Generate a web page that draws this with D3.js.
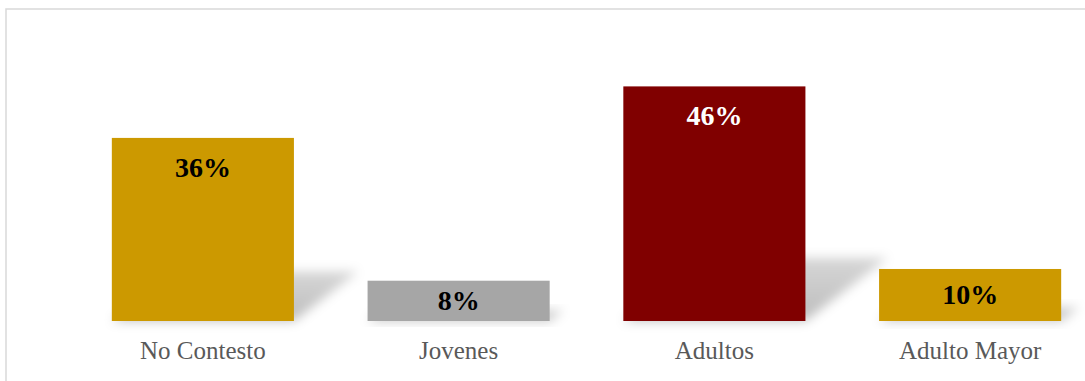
<!DOCTYPE html>
<html>
<head>
<meta charset="utf-8">
<script src="https://cdn.jsdelivr.net/npm/d3@7"></script>
<style>
  html, body { margin: 0; padding: 0; background: #fff; }
  svg { display: block; }
</style>
</head>
<body>
<svg id="chart" width="1085" height="381"></svg>
<script>
const categories = ["No Contesto", "Jovenes", "Adultos", "Adulto Mayor"];
const values = [0.359, 0.079, 0.460, 0.102];
const valueLabels = ["36%", "8%", "46%", "10%"];
const barColors = ["#CC9900", "#A6A6A6", "#800000", "#CC9900"];
const labelColors = ["#000000", "#000000", "#FFFFFF", "#000000"];

const svg = d3.select("#chart");

// chart frame (extends beyond right/bottom edges)
svg.append("rect")
  .attr("x", 6).attr("y", 9)
  .attr("width", 1200).attr("height", 500)
  .attr("fill", "#fff")
  .attr("stroke", "#d9d9d9").attr("stroke-width", 1.5);

const x = d3.scaleBand()
  .domain(categories)
  .range([75, 1098])
  .paddingInner(0.288)
  .paddingOuter(0.144);

const y = d3.scaleLinear()
  .domain([0, 0.5])
  .range([321, 66]);

const defs = svg.append("defs");
defs.append("filter")
  .attr("id", "blur")
  .attr("x", "-50%").attr("y", "-50%")
  .attr("width", "200%").attr("height", "200%")
  .append("feGaussianBlur")
  .attr("stdDeviation", 5.5);

const grad = defs.append("linearGradient")
  .attr("id", "shadowGrad")
  .attr("x1", 0).attr("y1", 1).attr("x2", 0).attr("y2", 0);
grad.append("stop").attr("offset", 0).attr("stop-color", "#000").attr("stop-opacity", 0.26);
grad.append("stop").attr("offset", 1).attr("stop-color", "#000").attr("stop-opacity", 0.16);

const data = categories.map((c, i) => ({ c, v: values[i], lab: valueLabels[i], col: barColors[i], tc: labelColors[i] }));

// perspective shadows
const base = y(0);
svg.append("g")
  .selectAll("path")
  .data(data)
  .join("path")
  .attr("d", d => {
    const x0 = x(d.c), x1 = x0 + x.bandwidth();
    const sh = 0.27 * (base - y(d.v));
    const dx = 1.3 * sh;
    return `M${x0},${base}L${x1},${base}L${x1 + dx},${base - sh}L${x0 + dx},${base - sh}Z`;
  })
  .attr("fill", "url(#shadowGrad)")
  .attr("filter", "url(#blur)");

// bars
svg.append("g")
  .selectAll("rect")
  .data(data)
  .join("rect")
  .attr("x", d => x(d.c))
  .attr("y", d => y(d.v))
  .attr("width", x.bandwidth())
  .attr("height", d => base - y(d.v))
  .attr("fill", d => d.col);

// value labels
svg.append("g")
  .selectAll("text")
  .data(data)
  .join("text")
  .attr("x", d => x(d.c) + x.bandwidth() / 2)
  .attr("y", d => {
    const h = base - y(d.v);
    return y(d.v) + Math.min(39, h / 2 + 9);
  })
  .attr("text-anchor", "middle")
  .attr("font-family", "'Liberation Serif', 'DejaVu Serif', serif")
  .attr("font-weight", "bold")
  .attr("font-size", 28)
  .attr("fill", d => d.tc)
  .text(d => d.lab);

// category axis labels
const axis = d3.axisBottom(x).tickSize(0).tickPadding(0);
const ag = svg.append("g")
  .attr("transform", `translate(0, ${base})`)
  .call(axis);
ag.select(".domain").remove();
ag.selectAll("text")
  .attr("dy", null)
  .attr("y", 38)
  .attr("font-family", "'Liberation Serif', 'DejaVu Serif', serif")
  .attr("font-size", 25)
  .attr("fill", "#595959");
</script>
</body>
</html>
